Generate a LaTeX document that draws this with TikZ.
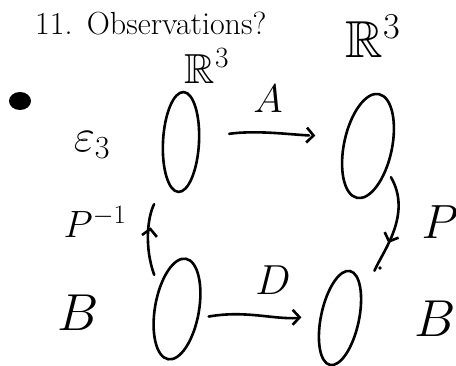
\RequirePackage{fix-cm}
\documentclass[tikz,border=0pt]{standalone}
\usepackage{amssymb}
\usetikzlibrary{shapes.geometric,arrows.meta,decorations.markings}

\begin{document}
\begin{tikzpicture}[x=1pt, y=-1pt]
    \def\penWidth{2.6pt}

    \definecolor{inkColour}{HTML}{000000}

    \tikzset{
        blob/.style={ellipse, draw=inkColour, line width=\penWidth, inner sep=0pt},
        pen/.style={draw=inkColour, line width=\penWidth, line cap=round},
        midtip/.style={postaction={decorate}, decoration={markings,
            mark=at position #1 with {\arrow[line width=\penWidth]{Straight Barb[length=7pt,width=15pt]}}}},
        lbl/.style={text=inkColour, inner sep=0pt}
    }

    % Fix the page size
    \useasboundingbox (0,0) rectangle (456,366);

    % Heading
    \node[lbl, anchor=base west, font=\fontsize{32}{36}\selectfont] (title) at (35,35) {11.\hspace{0.45em}Observations?};

    % Bullet
    \fill[inkColour] (20,101) ellipse (11 and 9);

    % Draw the four sets
    \node[blob, minimum width=36pt, minimum height=100pt, rotate=-3]  (TL) at (181,142) {};
    \node[blob, minimum width=48pt, minimum height=106pt, rotate=-12] (TR) at (368,146) {};
    \node[blob, minimum width=44pt, minimum height=102pt, rotate=-10] (BL) at (177,309) {};
    \node[blob, minimum width=38pt, minimum height=96pt, rotate=-12]  (BR) at (340,318) {};

    % Label the sets
    \node[lbl, font=\fontsize{42}{46}\selectfont] (RL) at (207,66) {$\mathbb{R}^3$};
    \node[lbl, font=\fontsize{52}{56}\selectfont] (RR) at (373,36) {$\mathbb{R}^3$};
    \node[lbl, font=\fontsize{46}{50}\selectfont] (E3) at (92,145) {$\varepsilon_3$};
    \node[lbl, font=\fontsize{52}{56}\selectfont] (BLl) at (78,313) {$B$};
    \node[lbl, font=\fontsize{52}{56}\selectfont] (BRl) at (435,319) {$B$};

    % Draw the maps
    \draw[pen, midtip=0.8, shorten <=29pt, shorten >=35pt] (TL.15) to[out=8, in=177] (TR.172);
    \draw[pen, midtip=0.85, shorten <=10pt, shorten >=22pt] (BL.-13) to[out=10, in=183] (BR.189);
    \draw[pen, midtip=0.55, shorten <=8pt, shorten >=31pt] (TR.-40) to[out=-60, in=67] (BR.52);
    \draw[pen, midtip=0.55, shorten <=13pt, shorten >=27pt] (BL.140) to[out=110, in=-117] (TL.252);

    % Label the maps
    \node[lbl, font=\fontsize{40}{44}\selectfont] (A) at (268,99) {$A$};
    \node[lbl, font=\fontsize{42}{46}\selectfont] (D) at (273,280) {$D$};
    \node[lbl, font=\fontsize{48}{52}\selectfont] (P) at (440,222) {$P$};
    \node[lbl, font=\fontsize{38}{42}\selectfont] (Pinv) at (95,222) {$P^{-1}$};

    % Stray mark
    \fill[inkColour] (380,268) circle (1.8pt);
\end{tikzpicture}
\end{document}
